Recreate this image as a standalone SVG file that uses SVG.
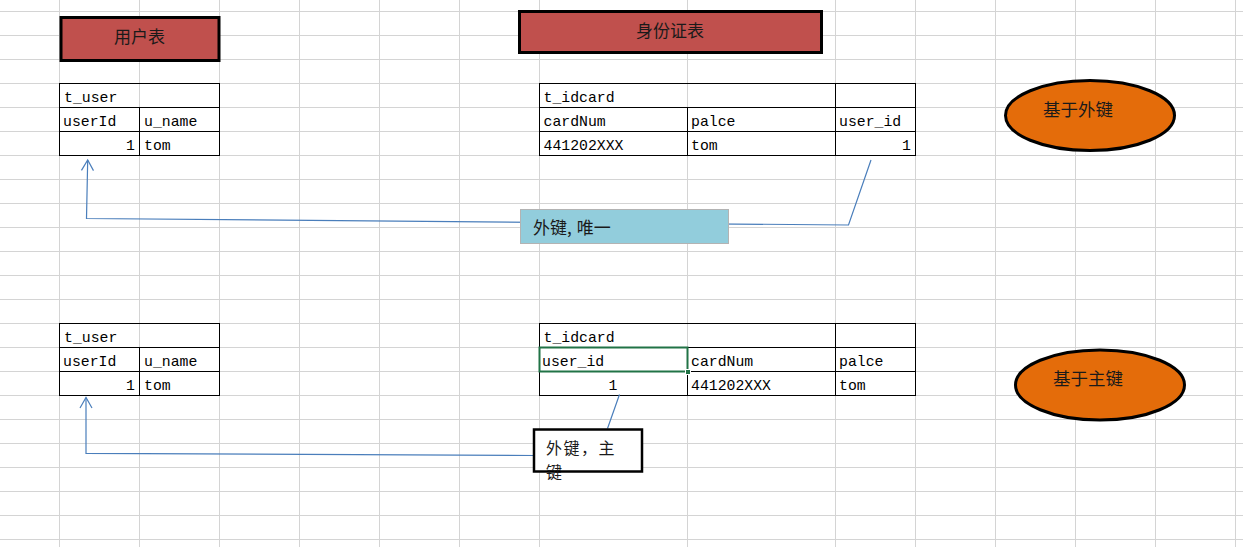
<svg xmlns="http://www.w3.org/2000/svg" width="1243" height="547" viewBox="0 0 1243 547">
<style>
.grid{stroke:#d4d4d4;stroke-width:1;fill:none;shape-rendering:crispEdges}
.tb{stroke:#000;stroke-width:1;fill:none;shape-rendering:crispEdges}
.cell{font-family:"Liberation Mono",monospace;font-size:14.8px;fill:#000}
.cjk{font-family:"Noto Sans CJK SC","Noto Sans",sans-serif;font-size:17px;fill:#1a1a1a}
.title{fill:#c0504d;stroke:#000;stroke-width:3}
.oval{fill:#e46c0a;stroke:#000;stroke-width:3}
.conn{stroke:#4a7ebb;stroke-width:1.2;fill:none}
</style>
<defs>
<marker id="arr" markerUnits="userSpaceOnUse" viewBox="-12 -8 14 16" markerWidth="14" markerHeight="16" refX="0" refY="0" orient="auto" overflow="visible">
<path d="M-10.5,-6 L0,0 L-10.5,6" fill="none" stroke="#4a7ebb" stroke-width="1.2"/>
</marker>
</defs>
<rect width="1243" height="547" fill="#fff"/>
<g id="grid">
<path class="grid" d="M59.5,0V547M139.5,0V547M219.5,0V547M299.5,0V547M379.5,0V547M459.5,0V547M539.5,0V547M687.5,0V547M835.5,0V547M915.5,0V547M995.5,0V547M1075.5,0V547M1155.5,0V547M1235.5,0V547"/>
<path class="grid" d="M0,11.5H1243M0,35.5H1243M0,59.5H1243M0,83.5H1243M0,107.5H1243M0,131.5H1243M0,155.5H1243M0,179.5H1243M0,203.5H1243M0,227.5H1243M0,251.5H1243M0,275.5H1243M0,299.5H1243M0,323.5H1243M0,347.5H1243M0,371.5H1243M0,395.5H1243M0,419.5H1243M0,443.5H1243M0,467.5H1243M0,491.5H1243M0,515.5H1243M0,539.5H1243"/>
</g>
<g id="title-user">
<rect class="title" x="61" y="17.5" width="158" height="43"/>
<text class="cjk" x="139.5" y="42.5" text-anchor="middle">用户表</text>
</g>
<g id="title-idcard">
<rect class="title" x="519.5" y="11.5" width="302" height="41"/>
<text class="cjk" x="670" y="36.5" text-anchor="middle">身份证表</text>
</g>
<g id="table-user-1">
<rect class="tb" x="59.5" y="83.5" width="160" height="72"/>
<path class="tb" d="M59.5,107.5H219.5M59.5,131.5H219.5M139.5,107.5V155.5"/>
<text class="cell" x="64" y="102">t_user</text>
<text class="cell" x="63" y="126">userId</text>
<text class="cell" x="144" y="126">u_name</text>
<text class="cell" x="135" y="150" text-anchor="end">1</text>
<text class="cell" x="144" y="150">tom</text>
</g>
<g id="table-idcard-1">
<rect class="tb" x="539.5" y="83.5" width="376" height="72"/>
<path class="tb" d="M539.5,107.5H915.5M539.5,131.5H915.5M835.5,83.5V155.5M687.5,107.5V155.5"/>
<text class="cell" x="543.5" y="102">t_idcard</text>
<text class="cell" x="543.5" y="126">cardNum</text>
<text class="cell" x="691" y="126">palce</text>
<text class="cell" x="839" y="126">user_id</text>
<text class="cell" x="543.5" y="150">441202XXX</text>
<text class="cell" x="691" y="150">tom</text>
<text class="cell" x="911" y="150" text-anchor="end">1</text>
</g>
<g id="table-user-2">
<rect class="tb" x="59.5" y="323.5" width="160" height="72"/>
<path class="tb" d="M59.5,347.5H219.5M59.5,371.5H219.5M139.5,347.5V395.5"/>
<text class="cell" x="64" y="342">t_user</text>
<text class="cell" x="63" y="366">userId</text>
<text class="cell" x="144" y="366">u_name</text>
<text class="cell" x="135" y="390" text-anchor="end">1</text>
<text class="cell" x="144" y="390">tom</text>
</g>
<g id="table-idcard-2">
<rect class="tb" x="539.5" y="323.5" width="376" height="72"/>
<path class="tb" d="M539.5,347.5H915.5M539.5,371.5H915.5M835.5,323.5V395.5M687.5,347.5V395.5"/>
<text class="cell" x="543.5" y="342">t_idcard</text>
<text class="cell" x="542" y="366">user_id</text>
<text class="cell" x="691" y="366">cardNum</text>
<text class="cell" x="839" y="366">palce</text>
<text class="cell" x="613" y="390" text-anchor="middle">1</text>
<text class="cell" x="691" y="390">441202XXX</text>
<text class="cell" x="839" y="390">tom</text>
<rect x="539.5" y="347.5" width="148" height="24" fill="none" stroke="#217346" stroke-width="2"/>
<rect x="685.5" y="369.5" width="5" height="5" fill="#217346" stroke="#fff" stroke-width="1"/>
</g>
<g id="connectors">
<path class="conn" d="M871,160 L848.5,225 L86.5,218.5 L87.7,160" marker-end="url(#arr)"/>
<path class="conn" d="M619.5,394.5 L607.5,428.5"/>
<path class="conn" d="M534,455.5 L86,453.3 L86,397.5" marker-end="url(#arr)"/>
</g>
<g id="label-unique">
<rect x="520.5" y="209.5" width="208" height="34" fill="#92cddc" stroke="#b3b3b3" stroke-width="1"/>
<text class="cjk" x="533" y="233.5">外键,<tspan dx="5">唯一</tspan></text>
</g>
<g id="label-primary">
<rect x="534" y="429.5" width="108" height="42" fill="#fff" stroke="#000" stroke-width="2.5"/>
<text class="cjk" style="font-size:16px"><tspan x="546" y="453.5" letter-spacing="1.5">外键，主</tspan><tspan x="546" y="477.5">键</tspan></text>
</g>
<g id="oval-fk">
<ellipse class="oval" cx="1090" cy="115.5" rx="84.5" ry="35"/>
<text class="cjk" x="1078" y="115.5" text-anchor="middle" style="font-size:17.5px">基于外键</text>
</g>
<g id="oval-pk">
<ellipse class="oval" cx="1100" cy="385" rx="84.5" ry="35"/>
<text class="cjk" x="1088" y="384.5" text-anchor="middle" style="font-size:17.5px">基于主键</text>
</g>
</svg>
